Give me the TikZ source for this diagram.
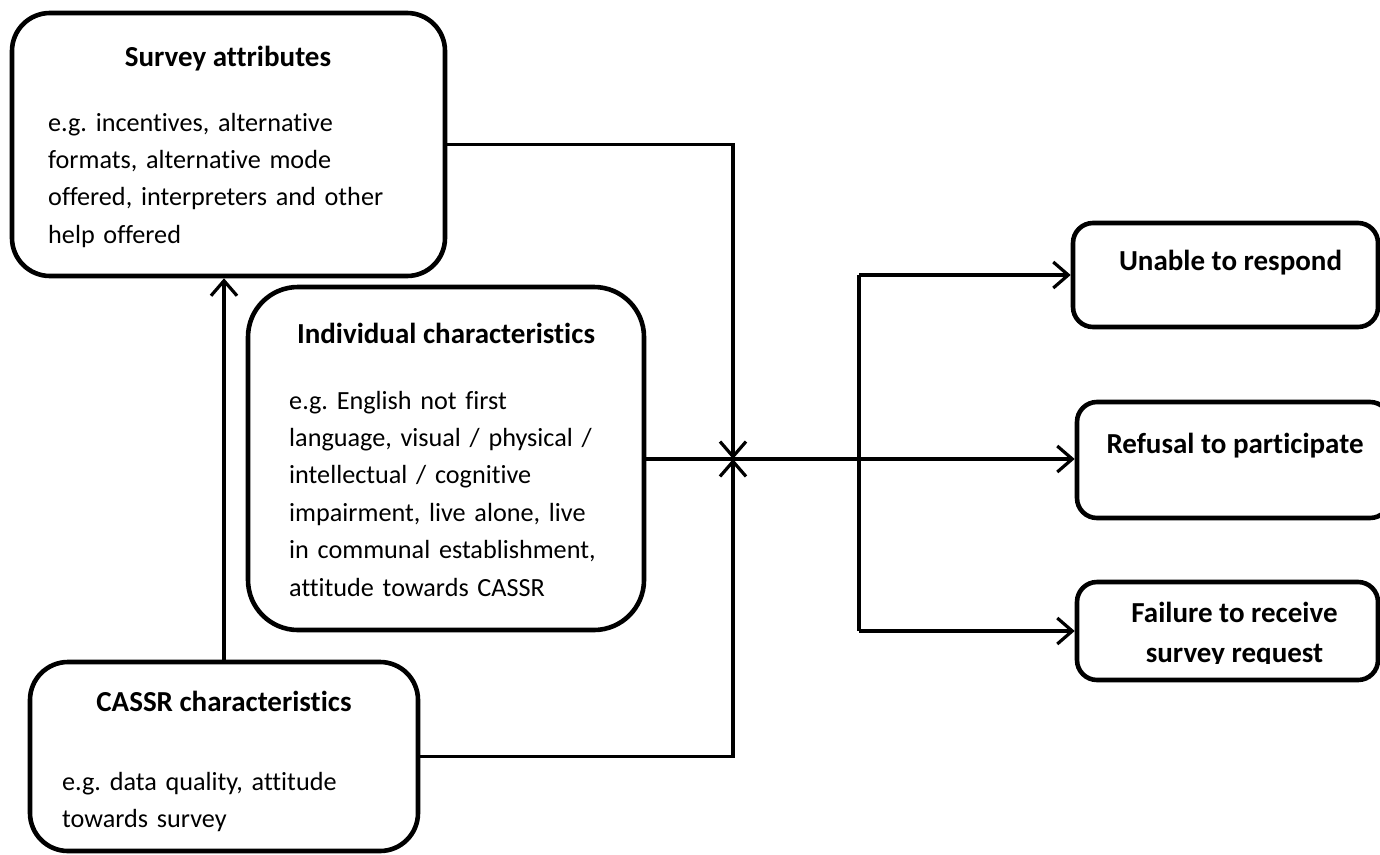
\documentclass[tikz,border=0pt]{standalone}
\usepackage{fontspec}
\setmainfont{Carlito}[Ligatures={NoCommon}]
\usetikzlibrary{arrows.meta,calc}
\frenchspacing
\tikzset{
  box/.style={draw=black, line width=4.6pt, rectangle, inner sep=0pt},
  conn/.style={draw=black, line width=3.2pt},
  arr/.style={conn, -{Straight Barb[length=15pt,width=26pt,line width=3.2pt]}},
  ttl/.style={inner sep=0pt, anchor=base, font=\fontsize{29}{40}\selectfont\bfseries},
  body/.style={inner sep=0pt, anchor=base west, align=left, font=\fontsize{26.2}{37.4}\selectfont},
}
\begin{document}
\begin{tikzpicture}[x=1pt,y=-1pt]
\useasboundingbox (0,0) rectangle (1380,854);
% boxes
\node[box, rounded corners=38pt, minimum width=433pt, minimum height=263pt] (sa) at (228.5,144.5) {};
\node[box, rounded corners=50pt, minimum width=396pt, minimum height=343pt] (ic) at (446,458.5) {};
\node[box, rounded corners=38pt, minimum width=388pt, minimum height=189pt] (cr) at (224,756.5) {};
\node[box, rounded corners=20pt, minimum width=305pt, minimum height=104pt] (un) at (1225.5,275) {};
\node[box, rounded corners=20pt, minimum width=313pt, minimum height=116pt] (rf) at (1233.5,460) {};
\node[box, rounded corners=20pt, minimum width=301pt, minimum height=98pt] (fr) at (1227.5,631) {};
% texts
\node[ttl] (saT) at (228,66) {Survey attributes};
\node[body, text width=390pt] (saB) at (48,131) {e.g. incentives, alternative\\formats, alternative mode\\offered, interpreters and other\\help offered};
\node[ttl] (icT) at (446,343) {Individual characteristics};
\node[body, text width=350pt] (icB) at (289,409) {e.g. English not first\\language, visual / physical /\\intellectual / cognitive\\impairment, live alone, live\\in communal establishment,\\attitude towards CASSR};
\node[ttl] (crT) at (224,711) {CASSR characteristics};
\node[body, text width=340pt] (crB) at (62,790) {e.g. data quality, attitude\\towards survey};
\node[ttl] (unT) at (1230.5,270) {Unable to respond};
\node[ttl] (rfT) at (1235,453) {Refusal to participate};
\node[ttl] (frT) at (1234.5,622) {Failure to receive};
\begin{scope}
\clip (1000,640) rectangle (1380,663);
\node[ttl] (frT2) at (1234.5,662) {survey request};
\end{scope}
% connectors
\coordinate (j) at (733,459);
\coordinate (sp) at (859,459);
\draw[arr] (sa.east) -| (j);
\draw[arr] (cr.east) -| (j);
\draw[conn] (ic.east |- j) -- (sp);
\draw[arr] (sp) -- (sp -| rf.west);
\draw[conn] (sp |- un.west) -- (sp |- fr.west);
\draw[arr] (sp |- un.west) -- (un.west);
\draw[arr] (sp |- fr.west) -- (fr.west);
\draw[arr] (cr.north) -- (cr.north |- sa.south);
\end{tikzpicture}
\end{document}
